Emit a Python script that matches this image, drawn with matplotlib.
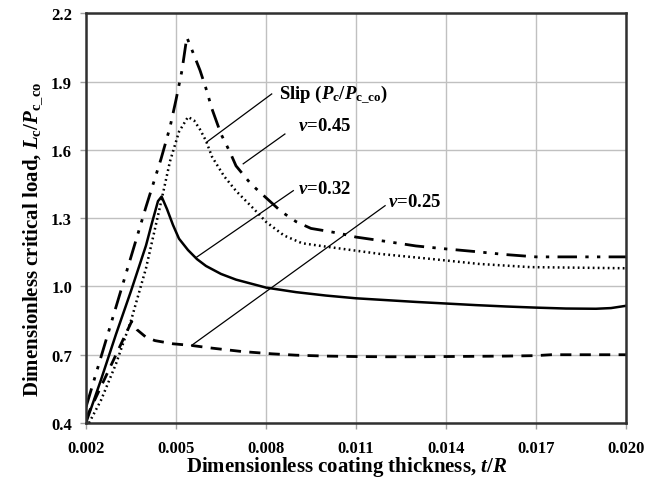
import matplotlib
matplotlib.use("Agg")
import matplotlib.pyplot as plt

plt.rcParams["font.family"] = ["Liberation Serif", "DejaVu Serif"]
plt.rcParams["font.weight"] = "bold"
plt.rcParams["mathtext.fontset"] = "custom"
plt.rcParams["mathtext.rm"] = "Liberation Serif:bold"
plt.rcParams["mathtext.it"] = "Liberation Serif:italic:bold"
plt.rcParams["mathtext.bf"] = "Liberation Serif:bold"

# slip curve (Pc/Pc_co)
slip_t = [0.002, 0.0025, 0.003, 0.0035, 0.004, 0.0045, 0.0048, 0.005, 0.0052,
          0.00536, 0.0055, 0.0058, 0.006, 0.0062, 0.0065, 0.0068, 0.007, 0.0075,
          0.008, 0.0085, 0.009, 0.0095, 0.010, 0.0105, 0.011, 0.012, 0.013,
          0.014, 0.015, 0.016, 0.017, 0.018, 0.020]
slip_v = [0.47, 0.69, 0.91, 1.13, 1.35, 1.56, 1.70, 1.82, 1.95,
          2.095, 2.05, 1.95, 1.87, 1.78, 1.67, 1.59, 1.53, 1.45,
          1.39, 1.33, 1.285, 1.255, 1.244, 1.232, 1.217, 1.198, 1.178,
          1.165, 1.153, 1.14, 1.13, 1.13, 1.13]

# nu = 0.45
n45_t = [0.0021, 0.0025, 0.003, 0.0035, 0.004, 0.0045, 0.0048, 0.0051, 0.0054,
         0.0056, 0.0058, 0.006, 0.0062, 0.0066, 0.007, 0.0076, 0.008, 0.0086,
         0.0092, 0.010, 0.0118, 0.0135, 0.0151, 0.0168, 0.020]
n45_v = [0.40, 0.50, 0.66, 0.85, 1.08, 1.37, 1.55, 1.68, 1.745,
         1.73, 1.69, 1.64, 1.57, 1.485, 1.42, 1.34, 1.284, 1.224,
         1.19, 1.175, 1.143, 1.121, 1.099, 1.085, 1.08]

# nu = 0.32
n32_t = [0.002, 0.0025, 0.003, 0.0035, 0.004, 0.0042, 0.0044, 0.00452, 0.0047,
         0.0049, 0.0051, 0.0054, 0.0057, 0.006, 0.0065, 0.007, 0.008, 0.009,
         0.010, 0.011, 0.012, 0.013, 0.014, 0.015, 0.016, 0.017, 0.018,
         0.019, 0.0195, 0.020]
n32_v = [0.40, 0.59, 0.79, 0.98, 1.18, 1.28, 1.375, 1.395, 1.34,
         1.27, 1.21, 1.16, 1.12, 1.09, 1.055, 1.03, 0.995, 0.975,
         0.96, 0.948, 0.94, 0.932, 0.925, 0.918, 0.912, 0.907, 0.903,
         0.902, 0.905, 0.915]

# nu = 0.25
n25_t = [0.002, 0.0025, 0.003, 0.00352, 0.0037, 0.004, 0.0043, 0.0049, 0.0055,
         0.0062, 0.0072, 0.0082, 0.009, 0.010, 0.011, 0.012, 0.013, 0.014,
         0.015, 0.016, 0.017, 0.0175, 0.018, 0.019, 0.020]
n25_v = [0.42, 0.56, 0.70, 0.846, 0.81, 0.777, 0.762, 0.748, 0.741,
         0.729, 0.714, 0.704, 0.698, 0.694, 0.692, 0.691, 0.691, 0.692,
         0.693, 0.694, 0.696, 0.70, 0.70, 0.70, 0.70]

# annotation labels: (text, text position, leader start, leader end)
labels = [r"Slip ($P_{\rm c}/P_{\rm c\_co}$)", r"$v$=0.45", r"$v$=0.32", r"$v$=0.25"]
label_xy = [(0.00843, 1.846), (0.00908, 1.707), (0.00907, 1.429), (0.01208, 1.372)]
leader_from = [(0.00819, 1.846), (0.00863, 1.67), (0.00891, 1.421), (0.01197, 1.355)]
leader_to = [(0.00602, 1.634), (0.00724, 1.539), (0.00569, 1.129), (0.00552, 0.741)]

x_ticks = [0.002, 0.005, 0.008, 0.011, 0.014, 0.017, 0.020]
y_ticks = [0.4, 0.7, 1.0, 1.3, 1.6, 1.9, 2.2]

fig = plt.figure(figsize=(6.6, 4.85), dpi=100)
ax = fig.add_axes([0.1303, 0.1258, 0.8182, 0.8445])

ax.plot(slip_t, slip_v, color="black", lw=2.0, dashes=(7, 3, 1.2, 3, 1.2, 3))
ax.plot(n45_t, n45_v, color="black", lw=1.8, dashes=(0.7, 1.3))
ax.plot(n32_t, n32_v, color="black", lw=1.8)
ax.plot(n25_t, n25_v, color="black", lw=2.0, dashes=(4, 3))

for txt, pos, p0, p1 in zip(labels, label_xy, leader_from, leader_to):
    ax.plot([p0[0], p1[0]], [p0[1], p1[1]], color="black", lw=0.9)
    ax.text(pos[0], pos[1], txt, fontsize=13.5, fontweight="bold",
            ha="left", va="center")

ax.set_xlim(0.002, 0.020)
ax.set_ylim(0.4, 2.2)
ax.set_xticks(x_ticks)
ax.set_yticks(y_ticks)
ax.set_xticklabels([f"{t:.3f}" for t in x_ticks])
ax.set_yticklabels([f"{v:.1f}" for v in y_ticks])
ax.tick_params(labelsize=12, length=4, color="#a0a0a0", width=1)
ax.tick_params(axis="x", pad=8)
ax.tick_params(axis="y", pad=6)
ax.grid(True, color="#c0c0c0", lw=1)
ax.set_axisbelow(True)
for s in ax.spines.values():
    s.set_linewidth(1.8)
    s.set_color("#303030")

ax.set_xlabel(r"Dimensionless coating thickness, $t/R$", fontsize=15,
              fontweight="bold", labelpad=-1, x=0.483)
ax.set_ylabel(r"Dimensionless critical load, $L_{\rm c}/P_{\rm c\_co}$",
              fontsize=15, fontweight="bold", labelpad=5, y=0.45)

fig.savefig("out.png", dpi=100)
